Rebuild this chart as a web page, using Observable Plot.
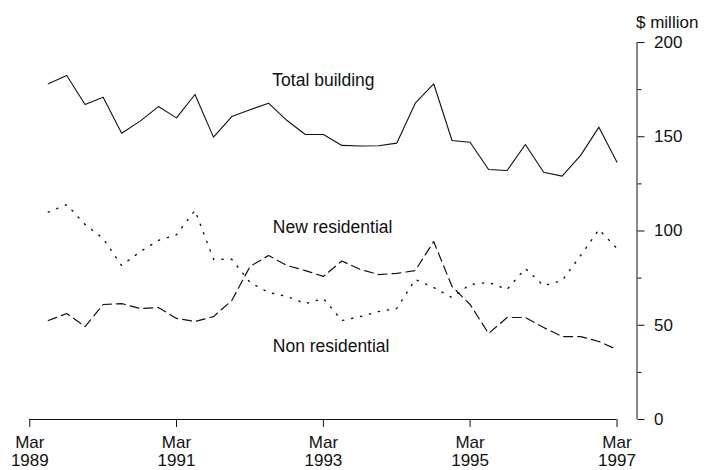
<!DOCTYPE html>
<html>
<head>
<meta charset="utf-8">
<script src="https://cdn.jsdelivr.net/npm/d3@7"></script>
<script src="https://cdn.jsdelivr.net/npm/@observablehq/plot@0.6"></script>
<style>
  html, body { margin: 0; padding: 0; background: #fff; }
  svg { display: block; }
</style>
</head>
<body>
<script>
// Quarterly data, $ million
const quarters = [
  "1989-06","1989-09","1989-12","1990-03","1990-06","1990-09","1990-12","1991-03",
  "1991-06","1991-09","1991-12","1992-03","1992-06","1992-09","1992-12","1993-03",
  "1993-06","1993-09","1993-12","1994-03","1994-06","1994-09","1994-12","1995-03",
  "1995-06","1995-09","1995-12","1996-03","1996-06","1996-09","1996-12","1997-03"
];
const totalBuilding = [
  178.1, 182.5, 167.1, 171.0, 151.9, 158.3, 166.0, 160.0,
  172.4, 149.8, 160.7, 164.3, 167.8, 158.6, 151.2, 151.2,
  145.4, 145.1, 145.2, 146.6, 167.8, 178.1, 148.0, 147.1,
  132.6, 132.1, 145.9, 131.2, 129.1, 140.1, 155.1, 136.5
];
const newResidential = [
  110.0, 114.0, 103.5, 96.0, 81.7, 89.0, 95.0, 98.0,
  111.0, 85.0, 85.0, 72.7, 67.4, 65.3, 61.5, 64.2,
  52.5, 54.6, 57.3, 58.9, 74.3, 70.0, 64.7, 71.6,
  72.7, 69.0, 80.1, 71.0, 73.7, 87.0, 100.8, 90.7
];
const nonResidential = [
  52.5, 56.2, 49.3, 61.0, 61.5, 58.9, 59.4, 53.6,
  52.0, 54.6, 63.1, 81.2, 87.0, 81.7, 79.0, 75.9,
  84.1, 79.6, 76.9, 77.5, 79.0, 94.4, 70.6, 61.0,
  45.6, 54.1, 54.1, 48.8, 44.0, 44.0, 41.4, 37.1
];
const xTicks = ["1989-03", "1991-03", "1993-03", "1995-03", "1997-03"];
const yTicks = [0, 50, 100, 150, 200];
const yMinorTicks = [25, 75, 125, 175];
const seriesLabels = [
  {text: "Total building", date: "1992-06-20", value: 179.8},
  {text: "New residential", date: "1992-06-22", value: 101.9},
  {text: "Non residential", date: "1992-06-22", value: 38.9}
];

const parse = d3.utcParse("%Y-%m");
const parseDay = d3.utcParse("%Y-%m-%d");
const mk = (vals) => quarters.map((q, i) => ({date: parse(q), value: vals[i]}));
const tickDates = xTicks.map(parse);
const start = tickDates[0], end = tickDates[tickDates.length - 1];
const font = "Liberation Sans, Arial, Helvetica, sans-serif";
const ink = "#111";

const chart = Plot.plot({
  width: 705,
  height: 470,
  marginTop: 42,
  marginBottom: 51,
  marginLeft: 29.3,
  marginRight: 88.5,
  style: {fontFamily: font, fontSize: "17px", color: ink, background: "#fff"},
  x: {type: "utc", domain: [start, end]},
  y: {domain: [0, 200]},
  marks: [
    // x axis baseline and ticks
    Plot.ruleY([0], {stroke: ink, strokeWidth: 1}),
    Plot.axisX({
      ticks: tickDates,
      tickSize: 8,
      tickPadding: 7,
      lineHeight: 1.08,
      fontSize: 17,
      stroke: ink,
      fill: ink,
      tickFormat: (d) => d3.utcFormat("%b")(d) + "\n" + d3.utcFormat("%Y")(d)
    }),
    // right y axis, offset to the right of the plot area
    Plot.ruleX([end], {x: (d) => d, y1: 0, y2: 200, dx: 20, stroke: ink, strokeWidth: 1}),
    Plot.axisY({
      anchor: "right",
      ticks: yTicks,
      dx: 20,
      tickSize: 7,
      tickPadding: 10,
      fontSize: 17,
      stroke: ink,
      fill: ink,
      label: null
    }),
    Plot.axisY({
      anchor: "right",
      ticks: yMinorTicks,
      dx: 20,
      tickSize: 4,
      text: null,
      stroke: ink,
      label: null
    }),
    Plot.text(["$ million"], {
      x: end, y: 200, dx: 19, dy: -20,
      textAnchor: "start", fontSize: 17, fill: ink
    }),
    // series
    Plot.line(mk(totalBuilding), {x: "date", y: "value", stroke: ink, strokeWidth: 1.1}),
    Plot.line(mk(newResidential), {x: "date", y: "value", stroke: ink, strokeWidth: 1.4, strokeDasharray: "1.2,8"}),
    Plot.line(mk(nonResidential), {x: "date", y: "value", stroke: ink, strokeWidth: 1.2, strokeDasharray: "9,5"}),
    // series labels
    Plot.text(seriesLabels, {
      x: (d) => parseDay(d.date), y: "value", text: "text",
      textAnchor: "start", fontSize: 17.5, fill: ink
    })
  ]
});
document.body.appendChild(chart);
</script>
</body>
</html>
